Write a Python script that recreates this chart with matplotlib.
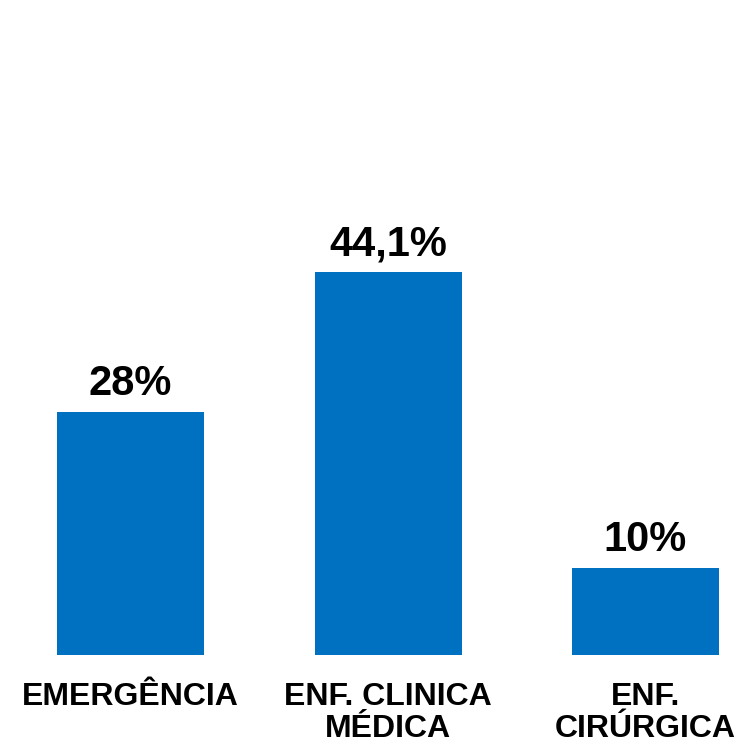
import matplotlib
matplotlib.use("Agg")
import matplotlib.pyplot as plt

categories = ["EMERGÊNCIA", "ENF. CLINICA\nMÉDICA", "ENF.\nCIRÚRGICA"]
values = [28.0, 44.1, 10.0]
value_labels = ["28%", "44,1%", "10%"]

plt.rcParams["font.family"] = ["Liberation Sans", "DejaVu Sans"]

W, H = 745, 743
fig = plt.figure(figsize=(W / 100, H / 100), dpi=100)
fig.patch.set_facecolor("white")

# baseline at 655 px from top, 8.68 px per percent point
base_px = 655
px_per_unit = 8.68
ax = fig.add_axes([0, (H - base_px) / H, 1, base_px / H])
ax.set_ylim(0, base_px / px_per_unit)
spacing = 257.5
x0 = 130.5
ax.set_xlim(-x0 / spacing, (W - x0) / spacing)

x = list(range(len(values)))
bars = ax.bar(x, values, width=147 / spacing, color="#0070C0", zorder=3)

for bar, lab in zip(bars, value_labels):
    ax.annotate(lab, (bar.get_x() + bar.get_width() / 2, bar.get_height()),
                xytext=(0, 8), textcoords="offset pixels",
                ha="center", va="bottom", fontsize=30, fontweight="bold",
                color="black")

for xi, cat in zip(x, categories):
    ax.annotate(cat, (xi, 0), xytext=(0, -27), textcoords="offset pixels",
                ha="center", va="top", fontsize=23, fontweight="bold",
                color="black", linespacing=1.08, annotation_clip=False)

ax.axis("off")
fig.savefig("out.png", dpi=100, facecolor="white")
